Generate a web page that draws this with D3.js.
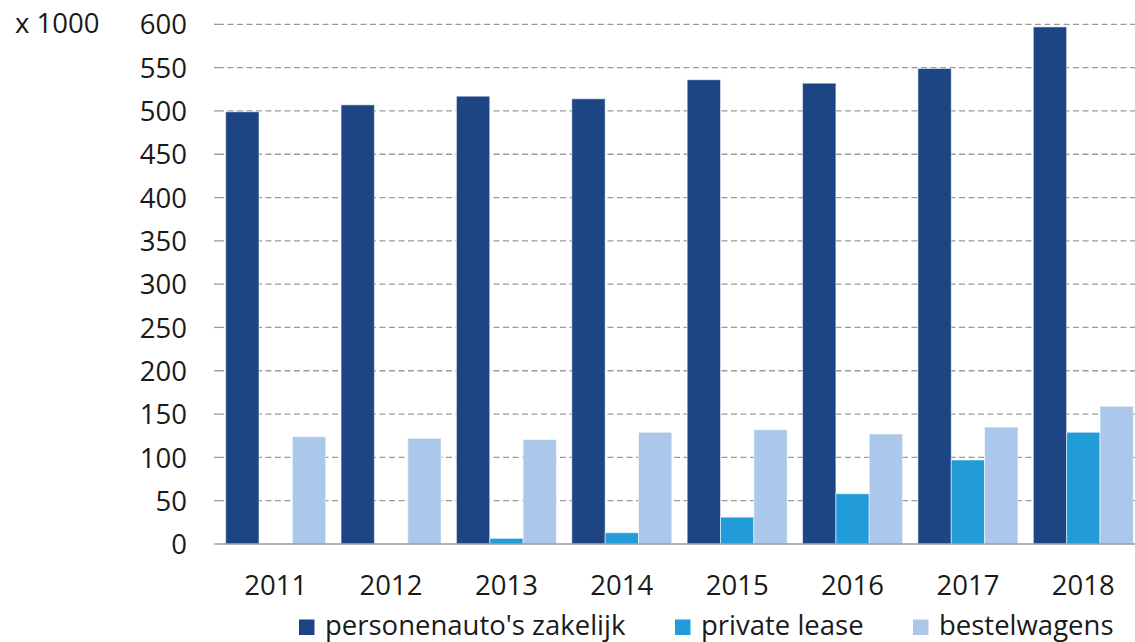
<!DOCTYPE html>
<html>
<head>
<meta charset="utf-8">
<script src="https://cdn.jsdelivr.net/npm/d3@7"></script>
<style>
  body { margin: 0; background: #fff; }
  svg text { font-family: "Open Sans", "Noto Sans", sans-serif; fill: #1a1a1a; }
</style>
</head>
<body>
<svg id="chart" width="1135" height="642"></svg>
<script>
// data (x 1000)
var years = ['2011', '2012', '2013', '2014', '2015', '2016', '2017', '2018'];
var seriesNames = ["personenauto's zakelijk", 'private lease', 'bestelwagens'];
var zakelijk = [499, 507, 517, 514, 536, 532, 549, 597];
var privateLease = [0, 0, 6.5, 13, 31, 58, 97, 129];
var bestelwagens = [124, 122, 120.5, 129, 132, 127, 135, 159];
var yTicks = [0, 50, 100, 150, 200, 250, 300, 350, 400, 450, 500, 550, 600];
var colors = ['#1D4483', '#229BD9', '#ABC8EA'];

var svg = d3.select('#chart');
var W = 1135, H = 642;
var fs = '27.5px';

// layout
var x0 = 218, x1 = 1141;
var yBase = 544, yTop = 24.3;

var x = d3.scaleBand()
  .domain(years)
  .range([x0, x1])
  .paddingInner(0.133)
  .paddingOuter(0.0665);

var xs = d3.scaleBand()
  .domain(d3.range(seriesNames.length))
  .range([0, x.bandwidth()]);

var y = d3.scaleLinear()
  .domain([0, 600])
  .range([yBase, yTop]);

// gridlines
svg.append('g')
  .selectAll('line')
  .data(yTicks.filter(function(d){ return d > 0; }))
  .enter().append('line')
  .attr('x1', x0)
  .attr('x2', W)
  .attr('y1', function(d){ return y(d); })
  .attr('y2', function(d){ return y(d); })
  .attr('stroke', '#9a9a9a')
  .attr('stroke-width', 1.3)
  .attr('stroke-dasharray', '6,3.5');

// y axis labels
var yAxis = d3.axisLeft(y).tickValues(yTicks).tickSize(0).tickPadding(0);
var gy = svg.append('g')
  .attr('transform', 'translate(187,0)')
  .call(yAxis);
gy.select('.domain').remove();
gy.selectAll('text')
  .attr('font-size', fs)
  .attr('dy', '0.35em')
  .style('font-family', '"Open Sans", "Noto Sans", sans-serif')
  .attr('fill', '#1a1a1a');

// small tick marks at left
svg.append('g')
  .selectAll('line')
  .data(yTicks)
  .enter().append('line')
  .attr('x1', x0 - 4)
  .attr('x2', x0)
  .attr('y1', function(d){ return y(d); })
  .attr('y2', function(d){ return y(d); })
  .attr('stroke', '#9a9a9a')
  .attr('stroke-width', 1.3);

// unit label
svg.append('text')
  .attr('x', 15)
  .attr('y', 33)
  .attr('font-size', fs)
  .text('x 1000');

// bars
var table = years.map(function(yr, i){
  return { year: yr, values: [zakelijk[i], privateLease[i], bestelwagens[i]] };
});

var groups = svg.append('g')
  .selectAll('g')
  .data(table)
  .enter().append('g')
  .attr('transform', function(d){ return 'translate(' + x(d.year) + ',0)'; });

groups.selectAll('rect')
  .data(function(d){ return d.values.map(function(v, k){ return { k: k, v: v }; }); })
  .enter().append('rect')
  .filter(function(d){ return d.v > 0; })
  .attr('x', function(d){ return xs(d.k); })
  .attr('width', xs.bandwidth())
  .attr('y', function(d){ return y(d.v); })
  .attr('height', function(d){ return yBase - y(d.v); })
  .attr('fill', function(d){ return colors[d.k]; })
  .attr('stroke', '#fff')
  .attr('stroke-opacity', 0.55)
  .attr('stroke-width', 1);

// baseline
svg.append('line')
  .attr('x1', x0)
  .attr('x2', W)
  .attr('y1', yBase)
  .attr('y2', yBase)
  .attr('stroke', '#9a9a9a')
  .attr('stroke-width', 1.5);

// x labels
svg.append('g')
  .selectAll('text')
  .data(years)
  .enter().append('text')
  .attr('x', function(d){ return x(d) + x.bandwidth() / 2; })
  .attr('y', 595)
  .attr('text-anchor', 'middle')
  .attr('font-size', fs)
  .text(function(d){ return d; });

// legend
var legendX = [299, 675, 913];
var lg = svg.append('g')
  .selectAll('g')
  .data(seriesNames)
  .enter().append('g')
  .attr('transform', function(d, i){ return 'translate(' + legendX[i] + ',0)'; });

lg.append('rect')
  .attr('x', 0)
  .attr('y', 619.5)
  .attr('width', 15.5)
  .attr('height', 15.5)
  .attr('fill', function(d, i){ return colors[i]; });

lg.append('text')
  .attr('x', 26)
  .attr('y', 635)
  .attr('font-size', fs)
  .text(function(d){ return d; });
</script>
</body>
</html>
